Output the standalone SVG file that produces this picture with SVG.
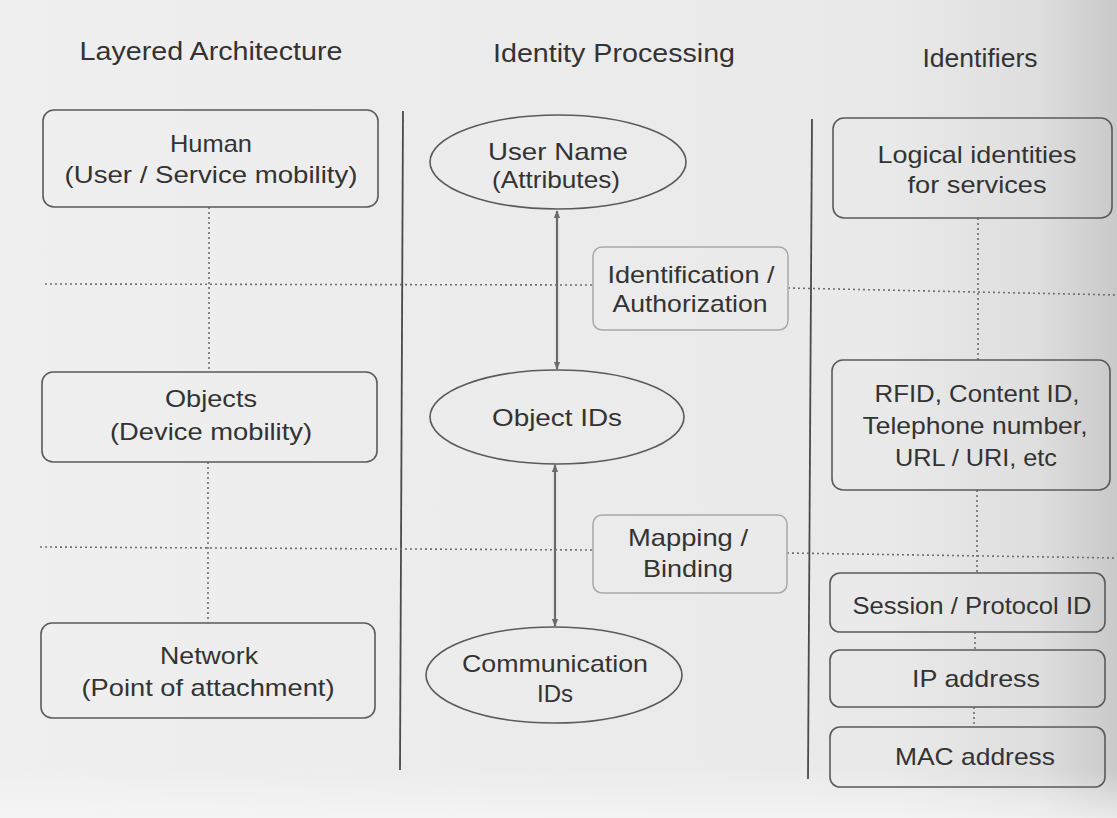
<svg xmlns="http://www.w3.org/2000/svg" width="1117" height="818" viewBox="0 0 1117 818">
  <defs>
    <linearGradient id="paper" x1="0" y1="0" x2="1" y2="0">
      <stop offset="0" stop-color="#efefef"/>
      <stop offset="0.8" stop-color="#e9e9e9"/>
      <stop offset="0.93" stop-color="#dedede"/>
      <stop offset="1" stop-color="#c9c9c9"/>
    </linearGradient>
    <linearGradient id="lowerEdge" x1="0" y1="0" x2="0" y2="1">
      <stop offset="0" stop-color="#f7f7f7" stop-opacity="0"/>
      <stop offset="1" stop-color="#f7f7f7" stop-opacity="0.7"/>
    </linearGradient>
    <marker id="head" viewBox="0 0 10 10" refX="9" refY="5" markerWidth="8" markerHeight="8" orient="auto-start-reverse" markerUnits="userSpaceOnUse">
      <path d="M0,1 L10,5 L0,9 Z" fill="#6a6a6a"/>
    </marker>
    <style>
      text { font-family: "Liberation Sans", Arial, sans-serif; font-size: 24px; fill: #333333; text-anchor: middle; }
      .title { font-size: 25px; }
      .box { fill: none; stroke: #5a5a5a; stroke-width: 1.6; }
      .soft { fill: none; stroke: #a8a8a8; stroke-width: 1.5; }
      .oval { fill: none; stroke: #5a5a5a; stroke-width: 1.6; }
      .rule { stroke: #4a4a4a; stroke-width: 1.8; fill: none; }
      .dots { stroke: #6e6e6e; stroke-width: 1.6; stroke-dasharray: 2 3; fill: none; }
      .arrow { stroke: #6a6a6a; stroke-width: 2.2; fill: none; marker-start: url(#head); marker-end: url(#head); }
    </style>
  </defs>

  <rect x="0" y="0" width="1117" height="818" fill="url(#paper)"/>
  <rect x="0" y="770" width="1117" height="48" fill="url(#lowerEdge)"/>

  <!-- column headings -->
  <g id="headings">
    <text class="title" x="211" y="60" textLength="263" lengthAdjust="spacingAndGlyphs">Layered Architecture</text>
    <text class="title" x="614" y="62" textLength="242" lengthAdjust="spacingAndGlyphs">Identity Processing</text>
    <text class="title" x="980" y="67" textLength="115" lengthAdjust="spacingAndGlyphs">Identifiers</text>
  </g>

  <!-- column separators and layer boundaries -->
  <g id="grid">
    <line class="rule" x1="403" y1="111" x2="400" y2="770"/>
    <line class="rule" x1="812" y1="119" x2="808" y2="779"/>
    <path class="dots" d="M45,284 L593,285 M788,288 L1117,295"/>
    <path class="dots" d="M40,547 L593,550 M787,553 L1117,558"/>
  </g>

  <!-- connectors -->
  <g id="connectors">
    <path class="dots" d="M209,207 L209,372 M208,462 L208,623"/>
    <path class="dots" d="M978,218 L978,360 M977,490 L977,573 M975,632 L975,650 M974,707 L974,727"/>
    <line class="arrow" x1="557" y1="211" x2="557" y2="369"/>
    <line class="arrow" x1="555" y1="465" x2="555" y2="626"/>
  </g>

  <!-- layered architecture column -->
  <g id="human">
    <rect class="box" x="43" y="110" width="335" height="97" rx="11"/>
    <text x="211" y="152" textLength="82" lengthAdjust="spacingAndGlyphs">Human</text>
    <text x="211" y="183" textLength="293" lengthAdjust="spacingAndGlyphs">(User / Service mobility)</text>
  </g>
  <g id="objects">
    <rect class="box" x="42" y="372" width="335" height="90" rx="11"/>
    <text x="211" y="407" textLength="92" lengthAdjust="spacingAndGlyphs">Objects</text>
    <text x="211" y="440" textLength="202" lengthAdjust="spacingAndGlyphs">(Device mobility)</text>
  </g>
  <g id="network">
    <rect class="box" x="41" y="623" width="334" height="95" rx="11"/>
    <text x="209" y="664" textLength="98" lengthAdjust="spacingAndGlyphs">Network</text>
    <text x="208" y="696" textLength="253" lengthAdjust="spacingAndGlyphs">(Point of attachment)</text>
  </g>

  <!-- identity processing column -->
  <g id="user-name">
    <ellipse class="oval" cx="558" cy="162" rx="128" ry="47"/>
    <text x="558" y="160" textLength="140" lengthAdjust="spacingAndGlyphs">User Name</text>
    <text x="556" y="188" textLength="128" lengthAdjust="spacingAndGlyphs">(Attributes)</text>
  </g>
  <g id="object-ids">
    <ellipse class="oval" cx="557" cy="417" rx="127" ry="47"/>
    <text x="557" y="426" textLength="130" lengthAdjust="spacingAndGlyphs">Object IDs</text>
  </g>
  <g id="communication-ids">
    <ellipse class="oval" cx="554" cy="675" rx="128" ry="48"/>
    <text x="555" y="672" textLength="186" lengthAdjust="spacingAndGlyphs">Communication</text>
    <text x="555" y="702" textLength="36" lengthAdjust="spacingAndGlyphs">IDs</text>
  </g>
  <g id="identification">
    <rect class="soft" x="593" y="247" width="195" height="83" rx="9"/>
    <text x="691" y="283" textLength="167" lengthAdjust="spacingAndGlyphs">Identification /</text>
    <text x="690" y="312" textLength="155" lengthAdjust="spacingAndGlyphs">Authorization</text>
  </g>
  <g id="mapping">
    <rect class="soft" x="593" y="515" width="194" height="78" rx="9"/>
    <text x="688" y="546" textLength="120" lengthAdjust="spacingAndGlyphs">Mapping /</text>
    <text x="688" y="577" textLength="90" lengthAdjust="spacingAndGlyphs">Binding</text>
  </g>

  <!-- identifiers column -->
  <g id="logical">
    <rect class="box" x="833" y="118" width="279" height="100" rx="11"/>
    <text x="977" y="163" textLength="199" lengthAdjust="spacingAndGlyphs">Logical identities</text>
    <text x="977" y="193" textLength="139" lengthAdjust="spacingAndGlyphs">for services</text>
  </g>
  <g id="rfid">
    <rect class="box" x="832" y="360" width="278" height="130" rx="11"/>
    <text x="977" y="402" textLength="205" lengthAdjust="spacingAndGlyphs">RFID, Content ID,</text>
    <text x="975" y="434" textLength="225" lengthAdjust="spacingAndGlyphs">Telephone number,</text>
    <text x="976" y="466" textLength="162" lengthAdjust="spacingAndGlyphs">URL / URI, etc</text>
  </g>
  <g id="session">
    <rect class="box" x="830" y="573" width="275" height="59" rx="10"/>
    <text x="972" y="614" textLength="239" lengthAdjust="spacingAndGlyphs">Session / Protocol ID</text>
  </g>
  <g id="ip">
    <rect class="box" x="830" y="650" width="275" height="57" rx="10"/>
    <text x="976" y="687" textLength="128" lengthAdjust="spacingAndGlyphs">IP address</text>
  </g>
  <g id="mac">
    <rect class="box" x="830" y="727" width="275" height="60" rx="10"/>
    <text x="975" y="765" textLength="160" lengthAdjust="spacingAndGlyphs">MAC address</text>
  </g>
</svg>
